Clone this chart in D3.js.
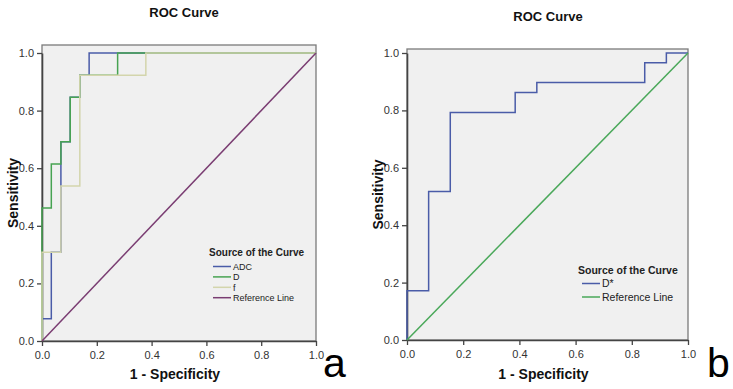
<!DOCTYPE html>
<html><head><meta charset="utf-8">
<script src="https://cdn.jsdelivr.net/npm/d3@7"></script>
<style>body{margin:0;background:#fff}svg{display:block}text{font-family:"Liberation Sans",Arial,sans-serif}</style>
</head><body><svg id="c" width="733" height="389"></svg>
<script>
// ---- data ----
const ticks = [0.0, 0.2, 0.4, 0.6, 0.8, 1.0];
const adcFpr = [0, 0, 0.034, 0.069, 0.103, 0.138, 0.172, 1.0];
const adcTpr = [0, 0.077, 0.308, 0.692, 0.846, 0.923, 1.0, 1.0];
const dFpr = [0, 0, 0.034, 0.069, 0.103, 0.138, 0.276, 1.0];
const dTpr = [0, 0.462, 0.615, 0.692, 0.846, 0.923, 1.0, 1.0];
const fFpr = [0, 0, 0.069, 0.138, 0.379, 1.0];
const fTpr = [0, 0.308, 0.538, 0.923, 1.0, 1.0];
const dStarFpr = [0, 0, 0.077, 0.154, 0.385, 0.462, 0.846, 0.923, 1.0];
const dStarTpr = [0, 0.172, 0.517, 0.793, 0.862, 0.897, 0.966, 1.0, 1.0];
const refFpr = [0, 1];
const refTpr = [0, 1];
const legendA = ["ADC", "D", "f", "Reference Line"];
const legendB = ["D*", "Reference Line"];

const svg = d3.select("#c");

function panel(cfg) {
  const x = d3.scaleLinear().domain([0, 1]).range([cfg.left, cfg.right]);
  const y = d3.scaleLinear().domain([0, 1]).range([cfg.bottom, cfg.y1]);
  const g = svg.append("g");
  g.append("rect").attr("x", cfg.left).attr("y", cfg.top)
    .attr("width", cfg.right - cfg.left).attr("height", cfg.bottom - cfg.top)
    .attr("fill", "#f0f0f0").attr("stroke", "#7a7a7a").attr("stroke-width", 1.3);
  const xa = g.append("g").attr("transform", `translate(0,${cfg.bottom})`)
    .call(d3.axisBottom(x).tickValues(ticks).tickFormat(d3.format(".1f")).tickSize(5).tickSizeOuter(0));
  const ya = g.append("g").attr("transform", `translate(${cfg.left},0)`)
    .call(d3.axisLeft(y).tickValues(ticks).tickFormat(d3.format(".1f")).tickSize(5).tickSizeOuter(0));
  [xa, ya].forEach(a => {
    a.select(".domain").attr("stroke", "#444").attr("stroke-width", 1.6);
    a.selectAll(".tick line").attr("stroke", "#444").attr("stroke-width", 1.3);
    a.selectAll(".tick text").attr("fill", "#333").style("font-size", "11px")
      .style("font-family", "'Liberation Sans',Arial,sans-serif");
  });
  xa.selectAll(".tick text").attr("dy", "0.9em");
  const step = d3.line().x(d => x(d[0])).y(d => y(d[1])).curve(d3.curveStepAfter);
  const straight = d3.line().x(d => x(d[0])).y(d => y(d[1]));
  cfg.series.forEach(s => {
    g.append("path").datum(d3.zip(s.fpr, s.tpr)).attr("d", s.ref ? straight : step)
      .attr("fill", "none").attr("stroke", s.color).attr("stroke-width", 1.5);
  });
  // titles
  g.append("text").attr("x", cfg.titleX).attr("y", cfg.titleY).attr("text-anchor", "middle")
    .style("font-size", "13px").style("font-weight", "bold").attr("fill", "#111").text("ROC Curve");
  g.append("text").attr("x", (cfg.left + cfg.right) / 2 - 4).attr("y", 379).attr("text-anchor", "middle")
    .style("font-size", "14px").style("font-weight", "bold").attr("fill", "#111").text("1 - Specificity");
  g.append("text").attr("transform", `translate(${cfg.left - 24},${(cfg.top + cfg.bottom) / 2}) rotate(-90)`)
    .attr("text-anchor", "middle")
    .style("font-size", "14px").style("font-weight", "bold").attr("fill", "#111").text("Sensitivity");
  // legend
  const lg = g.append("g");
  lg.append("text").attr("x", cfg.legX).attr("y", cfg.legY)
    .style("font-family", "'Liberation Sans Narrow','Liberation Sans',Arial,sans-serif")
    .style("font-size", cfg.legTitleSize + "px").style("font-weight", "bold").attr("fill", "#222").text("Source of the Curve");
  cfg.series.forEach((s, i) => {
    const yy = cfg.legY + cfg.legFirst + i * cfg.legStep;
    lg.append("line").attr("x1", cfg.legX + 4).attr("x2", cfg.legX + 22).attr("y1", yy).attr("y2", yy)
      .attr("stroke", s.color).attr("stroke-width", 1.5);
    lg.append("text").attr("x", cfg.legX + 24).attr("y", yy + cfg.legSize * 0.36)
      .style("font-size", cfg.legSize + "px").attr("fill", "#222").text(cfg.labels[i]);
  });
  svg.append("text").attr("x", cfg.letterX).attr("y", 377)
    .style("font-size", "41px").attr("fill", "#000").text(cfg.letter);
}

panel({
  left: 42, right: 316, top: 45, y1: 53, bottom: 341,
  titleX: 184, titleY: 17, legX: 209, legY: 256, legStep: 10.4, legFirst: 10.5,
  legTitleSize: 10, legSize: 9,
  labels: legendA, letter: "a", letterX: 323,
  series: [
    {fpr: adcFpr, tpr: adcTpr, color: "#4a5ca8"},
    {fpr: dFpr, tpr: dTpr, color: "#47a352"},
    {fpr: fFpr, tpr: fTpr, color: "#d3d5ac"},
    {fpr: refFpr, tpr: refTpr, color: "#7a3d72", ref: true}
  ]
});
panel({
  left: 407, right: 688, top: 49, y1: 53, bottom: 340,
  titleX: 548, titleY: 21, legX: 578, legY: 274, legStep: 13.5, legFirst: 9.5,
  legTitleSize: 10.5, legSize: 10.5,
  labels: legendB, letter: "b", letterX: 707,
  series: [
    {fpr: dStarFpr, tpr: dStarTpr, color: "#4a5ca8"},
    {fpr: refFpr, tpr: refTpr, color: "#4aa85a", ref: true}
  ]
});
</script></body></html>
